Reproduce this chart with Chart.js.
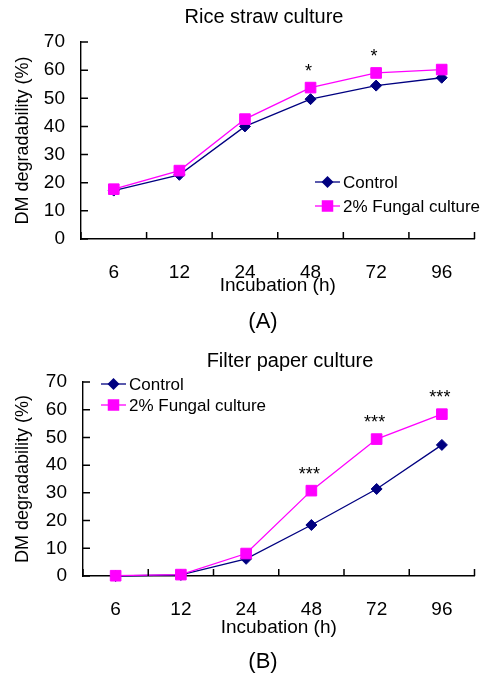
<!DOCTYPE html>
<html>
<head>
<meta charset="utf-8">
<script src="https://cdn.jsdelivr.net/npm/chart.js@4/dist/chart.umd.min.js"></script>
<style>
  body { margin: 0; background: #fff; }
  .panel { position: absolute; left: 0; }
</style>
</head>
<body>
<div class="panel" style="top:0"><canvas id="rice" width="483" height="340"></canvas></div>
<div class="panel" style="top:340px"><canvas id="paper" width="483" height="337"></canvas></div>
<script>
// incubation times (h)
const hours = ['6', '12', '24', '48', '72', '96'];

// DM degradability (%), rice straw culture
const riceControl = [17.2, 22.8, 40.0, 49.7, 54.5, 57.3];
const riceFungal  = [17.7, 24.3, 42.6, 53.8, 59.0, 60.2];
const riceSig     = ['', '', '', '*', '*', ''];

// DM degradability (%), filter paper culture
const paperControl = [0.0, 0.4, 6.2, 18.4, 31.4, 47.3];
const paperFungal  = [0.1, 0.5, 8.1, 30.8, 49.4, 58.4];
const paperSig     = ['', '', '', '***', '***', '***'];

const yTicks = [0, 70, 10]; // min, max, step
const seriesNames = ['Control', '2% Fungal culture'];

const FONT = "'Liberation Sans', Arial, sans-serif";
const NAVY = '#000080';
const PINK = '#FF00FF';

function drawDiamond(ctx, x, y, r) {
    ctx.beginPath();
    ctx.moveTo(x - r, y); ctx.lineTo(x, y - r); ctx.lineTo(x + r, y); ctx.lineTo(x, y + r);
    ctx.closePath();
    ctx.fill();
}
function drawSquare(ctx, x, y, s) {
    ctx.fillRect(x - s / 2, y - s / 2, s, s);
}

/*
    panel plugin
    draws the inward tick marks, title, legend, significance stars and panel tag
*/
const panelPlugin = {
    id: 'panel',
    afterDraw(chart, args, opts) {
        const ctx = chart.ctx;
        const area = chart.chartArea;
        const xs = chart.scales.x, ys = chart.scales.y;
        ctx.save();

        // inward tick marks
        ctx.strokeStyle = '#000';
        ctx.lineWidth = 1.5;
        ctx.beginPath();
        ys.ticks.forEach(t => {
            const py = ys.getPixelForValue(t.value);
            ctx.moveTo(area.left, py);
            ctx.lineTo(area.left + 7, py);
        });
        for (let i = 0; i <= xs.ticks.length; i++) {
            const px = xs.getPixelForValue(i - 0.5);
            ctx.moveTo(px, area.bottom);
            ctx.lineTo(px, area.bottom - 7);
        }
        ctx.stroke();

        // title
        ctx.fillStyle = '#000';
        ctx.textAlign = 'center';
        ctx.textBaseline = 'middle';
        ctx.font = '20px ' + FONT;
        ctx.fillText(opts.title, opts.titleX, opts.titleY);

        // panel tag (A)/(B)
        ctx.font = '22px ' + FONT;
        ctx.fillText(opts.tag, opts.tagX, opts.tagY);

        // significance stars above the fungal points
        ctx.font = '18px ' + FONT;
        ctx.textBaseline = 'alphabetic';
        const meta = chart.getDatasetMeta(1);
        opts.sig.forEach((s, i) => {
            if (!s) return;
            const pt = meta.data[i];
            ctx.fillText(s, pt.x - 2, pt.y - 19 + 8);
        });

        // legend
        ctx.textAlign = 'left';
        ctx.textBaseline = 'middle';
        ctx.font = '17px ' + FONT;
        const lx = opts.legendX;
        opts.legendRows.forEach((ly, k) => {
            const col = k === 0 ? NAVY : PINK;
            ctx.strokeStyle = col;
            ctx.fillStyle = col;
            ctx.lineWidth = 1.3;
            ctx.beginPath();
            ctx.moveTo(lx, ly);
            ctx.lineTo(lx + 25, ly);
            ctx.stroke();
            if (k === 0) drawDiamond(ctx, lx + 12.5, ly, 6);
            else drawSquare(ctx, lx + 12.5, ly, 11.5);
            ctx.fillStyle = '#000';
            ctx.fillText(seriesNames[k], lx + 28, ly + 1);
        });
        ctx.restore();
    }
};

function makeChart(id, control, fungal, cfg) {
    return new Chart(id, {
        type: 'line',
        data: {
            labels: hours,
            datasets: [{
                label: seriesNames[0],
                data: control,
                borderColor: NAVY,
                backgroundColor: NAVY,
                borderWidth: 1.3,
                pointStyle: 'rectRot',
                pointRadius: 5.5,
                pointBorderWidth: 1,
                tension: 0,
                clip: false,
                order: 2
            }, {
                label: seriesNames[1],
                data: fungal,
                borderColor: PINK,
                backgroundColor: PINK,
                borderWidth: 1.3,
                pointStyle: 'rect',
                pointRadius: 7.5,
                pointBorderWidth: 1,
                tension: 0,
                clip: false,
                order: 1
            }]
        },
        options: {
            responsive: false,
            animation: false,
            layout: { padding: { top: 42, right: 0, bottom: 0, left: 0 } },
            plugins: {
                legend: { display: false },
                tooltip: { enabled: false },
                panel: cfg.panel
            },
            scales: {
                x: {
                    offset: true,
                    grid: { display: false },
                    border: { display: true, color: '#000', width: 1.6 },
                    ticks: { color: '#000', padding: 14, font: { family: FONT, size: 19 } },
                    title: {
                        display: true, text: 'Incubation (h)', color: '#000',
                        font: { family: FONT, size: 19 },
                        padding: { top: 0, bottom: cfg.xTitlePad }
                    },
                    afterFit: s => { s.height = cfg.xHeight; }
                },
                y: {
                    min: yTicks[0], max: yTicks[1],
                    grid: { display: false, drawTicks: false },
                    border: { display: true, color: '#000', width: 1.4 },
                    ticks: { stepSize: yTicks[2], color: '#000', padding: 16, font: { family: FONT, size: 19 } },
                    title: {
                        display: true, text: 'DM degradability (%)', color: '#000',
                        font: { family: FONT, size: 18 },
                        padding: { top: 12, bottom: 0 }
                    },
                    afterFit: s => { s.width = cfg.yWidth; }
                }
            }
        },
        plugins: [panelPlugin]
    });
}

const g1 = makeChart('rice', riceControl, riceFungal, {
    xHeight: 101, yWidth: 81, xTitlePad: 43,
    panel: {
        title: 'Rice straw culture', titleX: 264, titleY: 17,
        tag: '(A)', tagX: 263, tagY: 322,
        sig: riceSig,
        legendX: 315, legendRows: [182, 206]
    }
});

const g2 = makeChart('paper', paperControl, paperFungal, {
    xHeight: 101, yWidth: 83, xTitlePad: 38,
    panel: {
        title: 'Filter paper culture', titleX: 290, titleY: 21,
        tag: '(B)', tagX: 263, tagY: 322,
        sig: paperSig,
        legendX: 101, legendRows: [44, 65]
    }
});
</script>
</body>
</html>
